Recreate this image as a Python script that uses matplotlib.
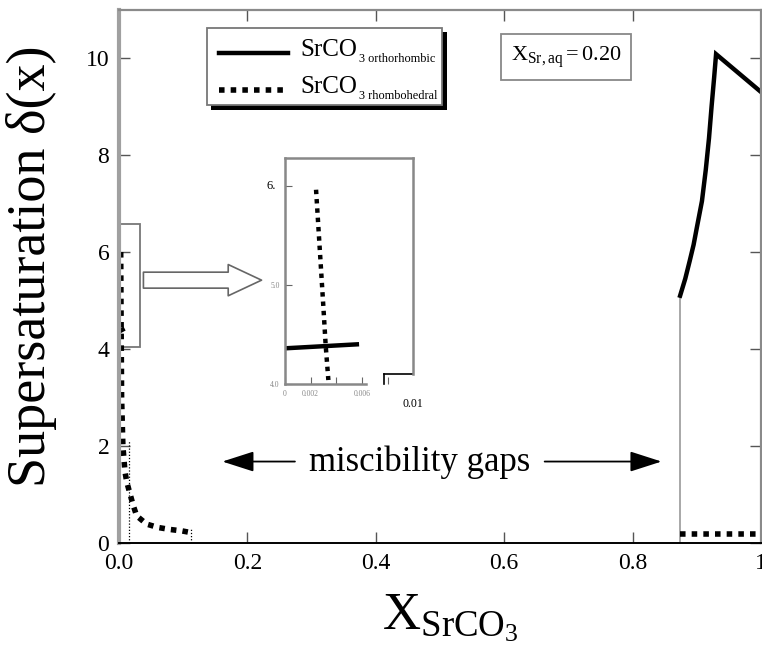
import matplotlib
matplotlib.use("Agg")
import matplotlib.pyplot as plt
from matplotlib.patches import Rectangle

plt.rcParams['font.family'] = ['Liberation Serif', 'DejaVu Serif']
plt.rcParams['mathtext.fontset'] = 'custom'
plt.rcParams['mathtext.rm'] = 'Liberation Serif'
plt.rcParams['mathtext.it'] = 'Liberation Serif:italic'

# ---- data ----
orth_right_x = [0.874, 0.882, 0.889, 0.895, 0.900, 0.908, 0.914, 0.919, 0.923, 0.927, 0.930, 1.0]
orth_right_y = [5.10, 5.45, 5.82, 6.15, 6.50, 7.05, 7.70, 8.35, 9.00, 9.60, 10.08, 9.30]
orth_left_x = [0.0, 0.0056]
orth_left_y = [4.36, 4.40]
rhombo_left_x = [0.0026, 0.003, 0.0035, 0.004, 0.006, 0.0093, 0.012, 0.017, 0.022, 0.0275,
                 0.043, 0.061, 0.079, 0.098, 0.11]
rhombo_left_y = [6.0, 5.0, 4.0, 3.0, 2.0, 1.47, 1.26, 1.02, 0.78, 0.56,
                 0.39, 0.32, 0.28, 0.25, 0.22]
rhombo_right_x = [0.874, 1.0]
rhombo_right_y = [0.18, 0.18]
gap_bounds = [0.016, 0.112, 0.874]

inset_orth_x = [0.0, 0.0056]
inset_orth_y = [4.36, 4.40]
inset_rhombo_x = [0.00242, 0.00299, 0.00317, 0.00338]
inset_rhombo_y = [5.96, 4.78, 4.39, 4.04]

xticks = [0.0, 0.2, 0.4, 0.6, 0.8, 1.0]
xticklabels = ['0.0', '0.2', '0.4', '0.6', '0.8', '1']
yticks = [0, 2, 4, 6, 8, 10]
inset_xticks = [0, 0.002, 0.004, 0.006, 0.008]
inset_xticklabels = ['0', '0.002', '', '0.006', '']
inset_yticks = [4.0, 5.0, 6.0]
inset_yticklabels = ['4.0', '5.0', '']

fig = plt.figure(figsize=(7.62, 6.49), dpi=100)
ax = fig.add_axes([0.1562, 0.1633, 0.8425, 0.822])
ax.set_xlim(0, 1.0)
ax.set_ylim(0, 11)

grey = '#8a8a8a'
for side in ['left', 'right', 'top']:
    ax.spines[side].set_color(grey)
    ax.spines[side].set_linewidth(1.6)
ax.spines['left'].set_linewidth(3.0)
ax.spines['left'].set_color('#a0a0a0')
ax.spines['bottom'].set_color('black')
ax.spines['bottom'].set_linewidth(1.4)

ax.set_xticks(xticks)
ax.set_xticklabels(xticklabels)
ax.set_yticks(yticks)
ax.tick_params(direction='in', length=8, width=1.0, top=True, right=True,
               labelsize=17, pad=7, color='#555555')

# gap boundary lines
ax.plot([gap_bounds[2], gap_bounds[2]], [0, orth_right_y[0]], color='#999999', lw=1.2)
ax.plot([gap_bounds[0], gap_bounds[0]], [0, 2.1], color='black', lw=0.9, ls=(0, (1, 1.5)))
ax.plot([gap_bounds[1], gap_bounds[1]], [0, 0.28], color='black', lw=0.9, ls=(0, (1, 1.5)))

# curves
ax.plot(orth_right_x, orth_right_y, color='black', lw=3.2, solid_joinstyle='miter', clip_on=False)
ax.plot(orth_left_x, orth_left_y, color='black', lw=3.2)
ax.plot(rhombo_left_x, rhombo_left_y, color='black', lw=4.0, ls=(0, (1, 1.1)),
        dash_capstyle='butt')
ax.plot(rhombo_right_x, rhombo_right_y, color='black', lw=4.0, ls=(0, (1, 1.1)),
        dash_capstyle='butt')

# zoom rectangle and hollow arrow
ax.add_patch(Rectangle((0.0, 4.05), 0.032, 2.53, fill=False, ec='#777777', lw=1.3))
ax.annotate('', xy=(0.222, 5.42), xytext=(0.038, 5.42),
            arrowprops=dict(arrowstyle='simple,head_length=2.4,head_width=2.25,tail_width=1.15',
                            mutation_scale=10, fc='white', ec='#666666', lw=1.2,
                            shrinkA=0, shrinkB=0))

# miscibility gaps text + arrows
ax.text(0.468, 1.66, 'miscibility gaps', fontsize=25, ha='center', va='center')
ax.annotate('', xy=(0.161, 1.68), xytext=(0.274, 1.68),
            arrowprops=dict(arrowstyle='-|>,head_length=1.4,head_width=0.45', color='black',
                            lw=1.3, mutation_scale=14, shrinkA=0, shrinkB=0))
ax.annotate('', xy=(0.845, 1.68), xytext=(0.663, 1.68),
            arrowprops=dict(arrowstyle='-|>,head_length=1.4,head_width=0.45', color='black',
                            lw=1.3, mutation_scale=14, shrinkA=0, shrinkB=0))

# legend box (manual, with shadow)
fig.patches.append(Rectangle((211 / 762, 1 - 110 / 649), (447 - 211) / 762, (110 - 32) / 649,
                             transform=fig.transFigure, fc='black', ec='none', zorder=5))
fig.patches.append(Rectangle((207 / 762, 1 - 105 / 649), (442 - 207) / 762, (105 - 28) / 649,
                             transform=fig.transFigure, fc='white', ec='#777777', lw=1.3, zorder=6))
fig.lines.append(plt.Line2D([219 / 762, 288 / 762], [1 - 53 / 649, 1 - 53 / 649],
                            transform=fig.transFigure, color='black', lw=3.2, zorder=7))
fig.lines.append(plt.Line2D([219 / 762, 288 / 762], [1 - 90 / 649, 1 - 90 / 649],
                            transform=fig.transFigure, color='black', lw=4.0,
                            ls=(0, (1, 1.1)), dash_capstyle='butt', zorder=7))
legend_labels = [('SrCO', '3 orthorhombic', 50), ('SrCO', '3 rhombohedral', 87)]
for main, sub, ypx in legend_labels:
    fig.text(300 / 762, 1 - ypx / 649, main, fontsize=18, va='center', ha='left', zorder=8)
    fig.text(359 / 762, 1 - (ypx + 9) / 649, sub, fontsize=8.8, va='center', ha='left', zorder=8)

# X_Sr,aq box
fig.text(566 / 762, 1 - 57 / 649, r'$\mathrm{X}_{\mathrm{Sr,aq}} = 0.20$', fontsize=16,
         ha='center', va='center', zorder=8,
         bbox=dict(boxstyle='square,pad=0.45', fc='white', ec='#888888', lw=1.3))

# axis labels
fig.text(32 / 762, 1 - 266 / 649, 'Supersaturation δ(x)', rotation=90, fontsize=39,
         ha='center', va='center')
fig.text(450 / 762, 1 - 618 / 649, r'$\mathrm{X}_{\mathrm{SrCO}_3}$', fontsize=38,
         ha='center', va='center')

# inset
ins = fig.add_axes([285 / 762, 1 - 384 / 649, (413.3 - 285) / 762, (384 - 158) / 649])
ins.set_xlim(0, 0.01)
ins.set_ylim(4.0, 6.28)
for side in ['left', 'right', 'top', 'bottom']:
    ins.spines[side].set_color('#888888')
    ins.spines[side].set_linewidth(1.8)
ins.spines['bottom'].set_bounds(0, 0.0063)
ins.spines['right'].set_bounds(4.1, 6.28)
ins.plot([0.0077, 0.01], [4.1, 4.1], color='black', lw=1.2, clip_on=False)
ins.plot([0.0077, 0.0077], [4.0, 4.1], color='black', lw=1.2, clip_on=False)
ins.plot(inset_orth_x, inset_orth_y, color='black', lw=3.2)
ins.plot(inset_rhombo_x, inset_rhombo_y, color='black', lw=3.2, ls=(0, (1, 1.1)),
         dash_capstyle='butt')
ins.set_xticks(inset_xticks)
ins.set_xticklabels(inset_xticklabels)
ins.set_yticks(inset_yticks)
ins.set_yticklabels(inset_yticklabels)
ins.tick_params(direction='in', length=5, width=0.8, labelsize=5.5, labelcolor='#888888',
                color='#666666', pad=4)
ins.text(-0.0007, 6.0, '6.', fontsize=9, ha='right', va='center', color='black')
ins.text(0.01, 3.86, '0.01', fontsize=8.5, ha='center', va='top', color='black')

fig.savefig('out.png', dpi=100)
